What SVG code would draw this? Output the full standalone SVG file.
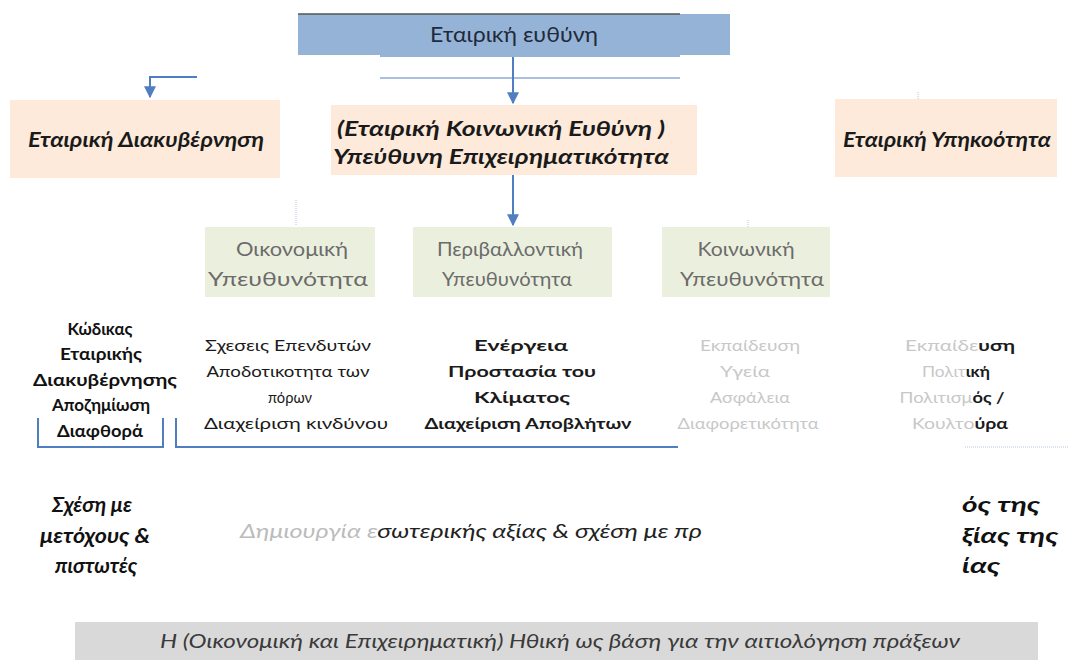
<svg xmlns="http://www.w3.org/2000/svg" width="1069" height="660" viewBox="0 0 1069 660">
<style>
.bg{fill:#ffffff}
.peach{fill:#fdeadb}
.green{fill:#ebf0de}
.blue{fill:#95b3d7}
.gray{fill:#d9d9d9}
text{font-family:Lato,"Open Sans","Liberation Sans",sans-serif}
.t{text-anchor:middle}
.pk{font-size:20px;font-weight:bold;font-style:italic;fill:#1a1a1a}
.gr{font-size:19px;fill:#6b6b6b}
.col{font-size:15px;fill:#1a1a1a}
.colb{font-size:15px;font-weight:bold;fill:#1a1a1a}
.lb{font-size:17px;font-weight:bold;fill:#111}
.faint{font-size:15px;fill:#c8c8c8}
.bi{font-size:20px;font-weight:bold;font-style:italic;fill:#111}
.it{font-size:19px;font-style:italic;fill:#3a3a3a}
.conn{stroke:#4f7fc0;stroke-width:2;fill:none}
.thin{stroke:#8eaad8;stroke-width:1.5;fill:none}
.dot{stroke:#b8c8e0;stroke-width:1;stroke-dasharray:1 1;fill:none}
</style>
<defs>
<marker id="ad" viewBox="0 0 10 10" refX="9" refY="5" markerWidth="6" markerHeight="6" orient="auto">
<path d="M0,0 L10,5 L0,10 z" fill="#4f7fc0"/>
</marker>
</defs>
<rect class="bg" x="0" y="0" width="1069" height="660"/>

<g id="connectors">
<line class="thin" x1="380" y1="78" x2="680" y2="78"/>
<line class="conn" x1="513" y1="57" x2="513" y2="103" marker-end="url(#ad)"/>
<polyline class="conn" points="197,77 150,77 150,97" marker-end="url(#ad)"/>
<line class="conn" x1="513" y1="175" x2="513" y2="225" marker-end="url(#ad)"/>
<line class="dot" x1="296" y1="200" x2="296" y2="225"/>
<line class="dot" x1="918" y1="92" x2="918" y2="99"/>
<line class="dot" x1="748" y1="220" x2="748" y2="227"/>
<polyline class="conn" points="38,418 38,447 163,447 163,418" stroke-width="1.5"/>
<polyline class="conn" points="176,418 176,447 285,447" stroke-width="1.5" stroke="#9db5da"/>
<line class="conn" x1="285" y1="447" x2="678" y2="447" stroke-width="1.5"/>
<line class="dot" x1="965" y1="447" x2="1069" y2="447"/>
</g>

<g id="node-top">
<rect class="blue" x="298" y="14" width="432" height="41"/>
<rect class="blue" x="380" y="55" width="300" height="2"/>
<line x1="298" y1="14" x2="680" y2="14" stroke="#555" stroke-width="1.5"/>
<text class="t" x="514" y="42" font-size="21" fill="#1f2b3a" textLength="168" lengthAdjust="spacingAndGlyphs">Εταιρική ευθύνη</text>
</g>

<g id="node-governance">
<rect class="peach" x="10" y="100" width="270" height="78"/>
<text class="t pk" x="146" y="147" textLength="236" lengthAdjust="spacingAndGlyphs">Εταιρική Διακυβέρνηση</text>
</g>

<g id="node-csr">
<rect class="peach" x="331" y="105" width="366" height="70"/>
<text class="t pk" x="501" y="136" textLength="328" lengthAdjust="spacingAndGlyphs">(Εταιρική Κοινωνική Ευθύνη )</text>
<text class="t pk" x="501" y="164" textLength="336" lengthAdjust="spacingAndGlyphs">Υπεύθυνη Επιχειρηματικότητα</text>
</g>

<g id="node-citizenship">
<rect class="peach" x="835" y="99" width="222" height="78"/>
<text class="t pk" x="947" y="147" textLength="208" lengthAdjust="spacingAndGlyphs">Εταιρική Υπηκοότητα</text>
</g>

<g id="node-economic">
<rect class="green" x="205" y="227" width="170" height="70"/>
<text class="t gr" x="292" y="256" textLength="112" lengthAdjust="spacingAndGlyphs">Οικονομική</text>
<text class="t gr" x="288" y="286" textLength="160" lengthAdjust="spacingAndGlyphs">Υπευθυνότητα</text>
</g>

<g id="node-environmental">
<rect class="green" x="413" y="227" width="199" height="70"/>
<text class="t gr" x="510" y="256" textLength="146" lengthAdjust="spacingAndGlyphs">Περιβαλλοντική</text>
<text class="t gr" x="507" y="286" textLength="130" lengthAdjust="spacingAndGlyphs">Υπευθυνότητα</text>
</g>

<g id="node-social">
<rect class="green" x="662" y="227" width="168" height="70"/>
<text class="t gr" x="746" y="256" textLength="97" lengthAdjust="spacingAndGlyphs">Κοινωνική</text>
<text class="t gr" x="752" y="286" textLength="144" lengthAdjust="spacingAndGlyphs">Υπευθυνότητα</text>
</g>

<g id="list-governance">
<text class="t lb" x="100" y="335" textLength="65" lengthAdjust="spacingAndGlyphs">Κώδικας</text>
<text class="t lb" x="101" y="360" textLength="82" lengthAdjust="spacingAndGlyphs">Εταιρικής</text>
<text class="t lb" x="105" y="386" textLength="144" lengthAdjust="spacingAndGlyphs">Διακυβέρνησης</text>
<text class="t lb" x="101" y="411" textLength="98" lengthAdjust="spacingAndGlyphs">Αποζημίωση</text>
<text class="t lb" x="100" y="437" textLength="86" lengthAdjust="spacingAndGlyphs">Διαφθορά</text>
</g>

<g id="list-economic">
<text class="t col" x="288" y="351" textLength="166" lengthAdjust="spacingAndGlyphs">Σχεσεις Επενδυτών</text>
<text class="t col" x="288" y="377" textLength="163" lengthAdjust="spacingAndGlyphs">Αποδοτικοτητα των</text>
<text class="t col" x="290" y="403" textLength="44" lengthAdjust="spacingAndGlyphs">πόρων</text>
<text class="t col" x="296" y="429" textLength="184" lengthAdjust="spacingAndGlyphs">Διαχείριση κινδύνου</text>
</g>

<g id="list-environmental">
<text class="t colb" x="521" y="351" textLength="94" lengthAdjust="spacingAndGlyphs">Ενέργεια</text>
<text class="t colb" x="522" y="377" textLength="148" lengthAdjust="spacingAndGlyphs">Προστασία του</text>
<text class="t colb" x="522" y="403" textLength="96" lengthAdjust="spacingAndGlyphs">Κλίματος</text>
<text class="t colb" x="528" y="429" textLength="207" lengthAdjust="spacingAndGlyphs">Διαχείριση Αποβλήτων</text>
</g>

<g id="list-social">
<text class="t faint" x="750" y="351" textLength="100" lengthAdjust="spacingAndGlyphs">Εκπαίδευση</text>
<text class="t faint" x="745" y="377" textLength="50" lengthAdjust="spacingAndGlyphs">Υγεία</text>
<text class="t faint" x="750" y="403" textLength="80" lengthAdjust="spacingAndGlyphs">Ασφάλεια</text>
<text class="t faint" x="748" y="429" textLength="141" lengthAdjust="spacingAndGlyphs">Διαφορετικότητα</text>
</g>

<g id="list-citizenship">
<text x="960" y="351" class="t faint" textLength="110" lengthAdjust="spacingAndGlyphs">Εκπαίδε<tspan class="colb">υση</tspan></text>
<text x="956" y="377" class="t faint" textLength="68" lengthAdjust="spacingAndGlyphs">Πολιτ<tspan class="colb">ική</tspan></text>
<text x="952" y="403" class="t faint" textLength="105" lengthAdjust="spacingAndGlyphs">Πολιτισμ<tspan class="colb">ός /</tspan></text>
<text x="960" y="429" class="t faint" textLength="96" lengthAdjust="spacingAndGlyphs">Κουλτο<tspan class="colb">ύρα</tspan></text>
</g>

<g id="row-bottom">
<text class="t bi" x="92" y="512" textLength="80" lengthAdjust="spacingAndGlyphs">Σχέση με</text>
<text class="t bi" x="95" y="543" textLength="110" lengthAdjust="spacingAndGlyphs">μετόχους &amp;</text>
<text class="t bi" x="96" y="573" textLength="82" lengthAdjust="spacingAndGlyphs">πιστωτές</text>
<text x="240" y="538" font-size="19" font-style="italic" fill="#222" textLength="462" lengthAdjust="spacingAndGlyphs"><tspan fill="#bcbcbc">Δημιουργία ε</tspan>σωτερικής αξίας &amp; σχέση με πρ</text>
<text class="bi" x="962" y="512" textLength="78" lengthAdjust="spacingAndGlyphs">ός της</text>
<text class="bi" x="962" y="543" textLength="96" lengthAdjust="spacingAndGlyphs">ξίας της</text>
<text class="bi" x="962" y="573" textLength="38" lengthAdjust="spacingAndGlyphs">ίας</text>
</g>

<g id="node-ethics">
<rect class="gray" x="75" y="622" width="963" height="38"/>
<text class="t it" x="560" y="648" textLength="800" lengthAdjust="spacingAndGlyphs">Η (Οικονομική και Επιχειρηματική) Ηθική ως βάση για την αιτιολόγηση πράξεων</text>
</g>
</svg>
